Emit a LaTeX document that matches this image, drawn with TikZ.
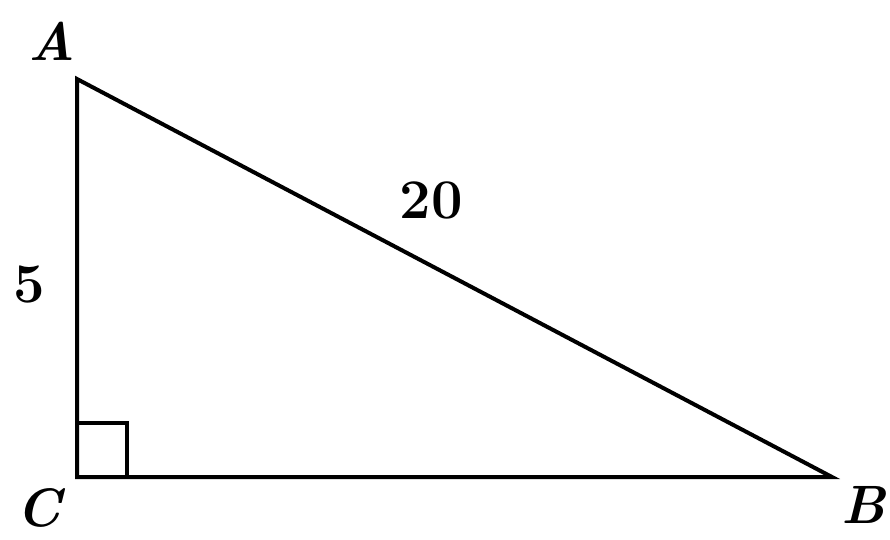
\documentclass[tikz,border=0pt]{standalone}
\begin{document}
\begin{tikzpicture}[x=1pt,y=-1pt,
  edge/.style={line width=4pt,line join=miter,line cap=butt},
  rightmark/.style={line width=3.5pt},
  vlabel/.style={inner sep=0pt,font=\fontsize{54}{58}\selectfont\bfseries\itshape},
  nlabel/.style={inner sep=0pt,font=\fontsize{56}{60}\selectfont\bfseries}]
\useasboundingbox (0,0) rectangle (890,539);
\coordinate (A) at (77,79);
\coordinate (C) at (77,477);
\coordinate (B) at (832,477);
\draw[edge] (A) -- (C) -- (B) -- cycle;
\coordinate (s1) at (77,423);
\coordinate (s2) at (127,423);
\coordinate (s3) at (127,477);
\draw[rightmark] (s1) -- (s2) -- (s3);
\node[vlabel] (lA) at (52,41) {A};
\node[vlabel] (lC) at (39,508) {C};
\node[vlabel] (lB) at (864,505) {B};
\node[nlabel] (l5) at (29,284) {5};
\node[nlabel] (l20) at (431,200) {20};
\end{tikzpicture}
\end{document}
